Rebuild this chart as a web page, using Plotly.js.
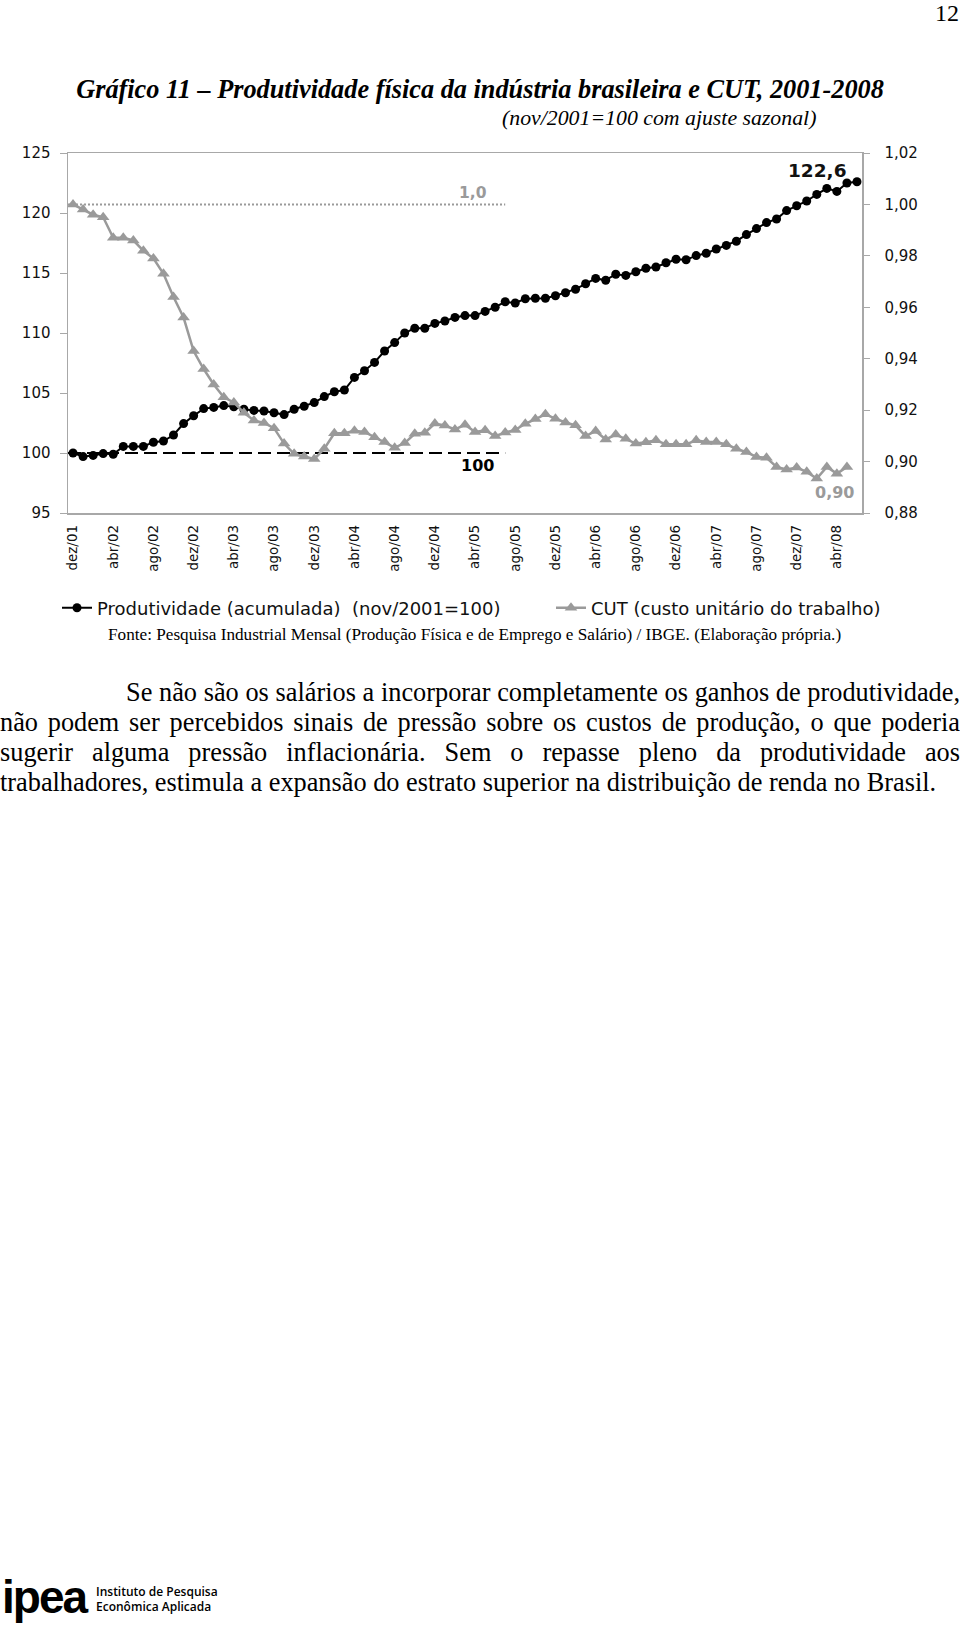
<!DOCTYPE html>
<html><head><meta charset="utf-8">
<script src="https://cdn.plot.ly/plotly-3.0.1.min.js"></script>
<style>
html,body{margin:0;padding:0;background:#fff;}
body{width:960px;height:1627px;position:relative;overflow:hidden;}
#chart{position:absolute;left:0;top:0;width:960px;height:1627px;}
.t{position:absolute;white-space:nowrap;color:#000;}
.pl{position:absolute;font-family:'Liberation Serif';font-size:26.3px;line-height:30px;text-align:justify;text-align-last:justify;white-space:nowrap;color:#000;}
</style></head><body>
<div id="chart"></div>
<div class="t" style="right:1px;top:0px;font:24px/26px 'Liberation Serif';">12</div>
<div class="t" style="left:0;width:960px;text-align:center;top:75px;font:italic bold 26.3px/30px 'Liberation Serif';">Gráfico 11 – Produtividade física da indústria brasileira e CUT, 2001-2008</div>
<div class="t" style="left:502px;top:106px;font:italic 21.8px/24px 'Liberation Serif';">(nov/2001=100 com ajuste sazonal)</div>
<div class="t" style="left:108px;top:625px;font:17.2px/20px 'Liberation Serif';">Fonte: Pesquisa Industrial Mensal (Produção Física e de Emprego e Salário) / IBGE. (Elaboração própria.)</div>
<div class="pl" style="left:126px;width:834px;top:678px;">Se não são os salários a incorporar completamente os ganhos de produtividade,</div>
<div class="pl" style="left:0;width:960px;top:708px;">não podem ser percebidos sinais de pressão sobre os custos de produção, o que poderia</div>
<div class="pl" style="left:0;width:960px;top:738px;">sugerir alguma pressão inflacionária. Sem o repasse pleno da produtividade aos</div>
<div class="pl" style="left:0;top:768px;text-align:left;text-align-last:left;">trabalhadores, estimula a expansão do estrato superior na distribuição de renda no Brasil.</div>
<div class="t" style="left:2px;top:1574px;font:bold 46px/46px 'Liberation Sans';letter-spacing:-2px;">ipea</div>
<div class="t" style="left:96px;top:1584px;font:600 12px/15px 'Open Sans';">Instituto de Pesquisa<br>Econômica Aplicada</div>
<script>
// ---- data ----
const months = [
'dez/01',
'jan/02','fev/02','mar/02','abr/02','mai/02','jun/02','jul/02','ago/02','set/02','out/02','nov/02','dez/02',
'jan/03','fev/03','mar/03','abr/03','mai/03','jun/03','jul/03','ago/03','set/03','out/03','nov/03','dez/03',
'jan/04','fev/04','mar/04','abr/04','mai/04','jun/04','jul/04','ago/04','set/04','out/04','nov/04','dez/04',
'jan/05','fev/05','mar/05','abr/05','mai/05','jun/05','jul/05','ago/05','set/05','out/05','nov/05','dez/05',
'jan/06','fev/06','mar/06','abr/06','mai/06','jun/06','jul/06','ago/06','set/06','out/06','nov/06','dez/06',
'jan/07','fev/07','mar/07','abr/07','mai/07','jun/07','jul/07','ago/07','set/07','out/07','nov/07','dez/07',
'jan/08','fev/08','mar/08','abr/08','mai/08','jun/08'
];
const tickLabels = ['dez/01','abr/02','ago/02','dez/02','abr/03','ago/03','dez/03','abr/04','ago/04','dez/04',
'abr/05','ago/05','dez/05','abr/06','ago/06','dez/06','abr/07','ago/07','dez/07','abr/08'];

const produtividade = [
100.0, 99.7, 99.8, 99.95, 99.9, 100.55, 100.55, 100.55, 100.9, 101.0, 101.5, 102.45, 103.1,
103.7, 103.8, 103.95, 103.85, 103.65, 103.55, 103.5, 103.35, 103.2, 103.65, 103.9, 104.2,
104.7, 105.1, 105.25, 106.3, 106.85, 107.55, 108.5, 109.2, 110.0, 110.4, 110.4, 110.8,
111.0, 111.3, 111.45, 111.45, 111.8, 112.15, 112.6, 112.5, 112.85, 112.9, 112.9, 113.1,
113.35, 113.65, 114.1, 114.55, 114.4, 114.9, 114.8, 115.1, 115.4, 115.5, 115.85, 116.15,
116.1, 116.45, 116.65, 117.0, 117.3, 117.65, 118.2, 118.7, 119.2, 119.5, 120.2, 120.6,
121.0, 121.55, 122.05, 121.8, 122.5, 122.6
];
const cut = [
1.000, 0.998, 0.996, 0.995, 0.987, 0.987, 0.986, 0.982, 0.979, 0.973, 0.964, 0.956, 0.943,
0.936, 0.930, 0.925, 0.923, 0.919, 0.916, 0.915, 0.913, 0.907, 0.903, 0.902, 0.901,
0.905, 0.911, 0.911, 0.912, 0.9115, 0.9095, 0.9076, 0.9054, 0.9072, 0.9108, 0.9112, 0.9148,
0.914, 0.9125, 0.9143, 0.9115, 0.9122, 0.9099, 0.9113, 0.9123, 0.9147, 0.9166, 0.9184, 0.9167,
0.9152, 0.9141, 0.9099, 0.9119, 0.9086, 0.9105, 0.9089, 0.907, 0.9075, 0.9083, 0.9067, 0.9067,
0.9067, 0.9083, 0.9076, 0.9076, 0.9067, 0.905, 0.9037, 0.9018, 0.9015, 0.8979, 0.8969, 0.8977,
0.896, 0.8934, 0.8979, 0.8953, 0.8979
];
const seriesNames = ['Produtividade (acumulada)\u00a0\u00a0(nov/2001=100)', 'CUT (custo unitário do trabalho)'];
const baseIndex = 100;      // nov/2001 = 100
const baseCUT = 1.0;
const refLineEnd = 'jul/05';

// ---- chart ----
const xi = months.map((m, i) => i);
const tickvals = tickLabels.map(l => months.indexOf(l));
const endIdx = months.indexOf(refLineEnd);
const gray = '#9a9a9a';
const axisGray = '#a8a8a8';
const sans = 'DejaVu Sans';
const fmt = (v, d) => v.toFixed(d).replace('.', ',');

const traces = [
  {x: xi, y: produtividade, name: seriesNames[0], type: 'scatter', mode: 'lines+markers', legend: 'legend',
   line: {color: '#000', width: 2}, marker: {symbol: 'circle', size: 9, color: '#000'}, hoverinfo: 'skip'},
  {x: xi.slice(0, cut.length), y: cut, yaxis: 'y2', name: seriesNames[1], type: 'scatter', mode: 'lines+markers',
   legend: 'legend2',
   line: {color: gray, width: 2.5}, marker: {symbol: 'triangle-up', size: 11, color: gray}, hoverinfo: 'skip'}
];

const xr = [-0.5, months.length - 0.5];
const L = 68, R = 98, T = 153, B = 1114;
const pw = 960 - L - R, ph = 1627 - T - B;
const px2x = p => (p - L) / pw;
const px2y = p => (1627 - B - p) / ph;
const legendBase = {orientation: 'h', y: px2y(608), xanchor: 'left', yanchor: 'middle',
  font: {family: sans, size: 18, color: '#111'}, bgcolor: 'rgba(0,0,0,0)', itemclick: false};

const layout = {
  width: 960, height: 1627,
  margin: {l: L, r: R, t: T, b: B, pad: 0},
  paper_bgcolor: '#fff', plot_bgcolor: '#fff',
  separators: ',.',
  showlegend: true,
  legend: Object.assign({x: px2x(57)}, legendBase),
  legend2: Object.assign({x: px2x(551)}, legendBase),
  xaxis: {type: 'linear', range: xr, tickmode: 'array', tickvals: tickvals, ticktext: tickLabels,
    ticks: '', tickangle: -90, tickfont: {family: sans, size: 13.5, color: '#111'}, ticklabelstandoff: 5,
    showline: true, linecolor: axisGray, linewidth: 1.5, mirror: true, showgrid: false, zeroline: false, fixedrange: true},
  xaxis2: {type: 'linear', overlaying: 'x', anchor: 'y', range: xr, tickmode: 'linear', tick0: -0.5, dtick: 1,
    ticks: 'inside', ticklen: 5, tickcolor: axisGray, tickwidth: 1, showticklabels: false, showline: false,
    showgrid: false, zeroline: false, fixedrange: true},
  xaxis3: {type: 'linear', overlaying: 'x', anchor: 'y', range: xr, tickmode: 'linear', tick0: -0.5, dtick: 1,
    ticks: 'outside', ticklen: 4, tickcolor: axisGray, tickwidth: 1, showticklabels: false, showline: false,
    showgrid: false, zeroline: false, fixedrange: true},
  yaxis: {range: [95, 125], tickmode: 'linear', tick0: 95, dtick: 5, ticks: 'outside', ticklen: 7,
    tickcolor: axisGray, tickwidth: 1, showline: true, linecolor: axisGray, linewidth: 1.5,
    tickfont: {family: sans, size: 15, color: '#111'}, ticklabelstandoff: 6,
    showgrid: false, zeroline: false, fixedrange: true},
  yaxis2: {overlaying: 'y', side: 'right', anchor: 'x', range: [0.88, 1.02], tickmode: 'linear', tick0: 0.88,
    dtick: 0.02, tickformat: '.2f', ticks: 'outside', ticklen: 6, tickcolor: axisGray, tickwidth: 1,
    showline: true, linecolor: axisGray, linewidth: 1.5, tickfont: {family: sans, size: 15, color: '#111'},
    ticklabelstandoff: 12, showgrid: false, zeroline: false, fixedrange: true},
  yaxis3: {overlaying: 'y', side: 'right', anchor: 'x', range: [0.88, 1.02], tickmode: 'linear', tick0: 0.88,
    dtick: 0.02, ticks: 'inside', ticklen: 6, tickcolor: axisGray, tickwidth: 1, showticklabels: false,
    showline: false, showgrid: false, zeroline: false, fixedrange: true},
  shapes: [
    {type: 'line', xref: 'x', yref: 'y', x0: xr[0], x1: endIdx, y0: baseIndex, y1: baseIndex,
     line: {color: '#000', width: 2, dash: '13px,6px'}, layer: 'below'},
    {type: 'line', xref: 'x', yref: 'y2', x0: xr[0], x1: endIdx, y0: baseCUT, y1: baseCUT,
     line: {color: gray, width: 2, dash: '2px,2px'}, layer: 'below'}
  ],
  annotations: [
    {xref: 'x', yref: 'y2', x: endIdx, y: baseCUT, text: '<b>' + fmt(baseCUT, 1) + '</b>', showarrow: false,
     xanchor: 'right', yanchor: 'middle', xshift: -16, yshift: 11, font: {family: sans, size: 15.5, color: gray}},
    {xref: 'x', yref: 'y', x: endIdx, y: baseIndex, text: '<b>' + baseIndex + '</b>', showarrow: false,
     xanchor: 'right', yanchor: 'middle', xshift: -9, yshift: -12, font: {family: sans, size: 16, color: '#000'}},
    {xref: 'x', yref: 'y', x: produtividade.length - 1, y: produtividade[produtividade.length - 1],
     text: '<b>' + fmt(produtividade[produtividade.length - 1], 1) + '</b>', showarrow: false,
     xanchor: 'right', yanchor: 'middle', xshift: -8, yshift: 11, font: {family: sans, size: 18.5, color: '#111'}},
    {xref: 'x', yref: 'y2', x: cut.length - 1, y: cut[cut.length - 1],
     text: '<b>' + fmt(cut[cut.length - 1], 2) + '</b>', showarrow: false,
     xanchor: 'right', yanchor: 'middle', xshift: 9, yshift: -26, font: {family: sans, size: 16, color: gray}}
  ]
};

Plotly.newPlot('chart', traces, layout, {staticPlot: true, displayModeBar: false});
</script>
</body></html>
